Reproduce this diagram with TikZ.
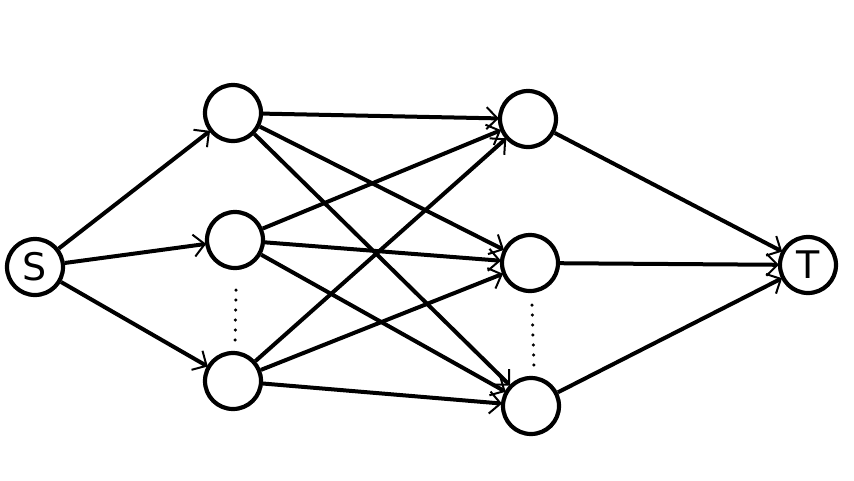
\documentclass[tikz,border=0pt]{standalone}
\usepackage{fontspec}
\setmainfont{DejaVu Sans}
\usetikzlibrary{arrows.meta}
\begin{document}
\begin{tikzpicture}[x=1pt,y=-1pt,
  vert/.style={circle,draw=black,line width=4.2pt,minimum size=56pt,inner sep=0pt,font=\fontsize{38}{38}\selectfont},
  edge/.style={line width=4pt,-{Straight Barb[length=11pt,width=22pt,line width=2pt]},shorten >=-1pt},
  dots/.style={line width=3.5pt,dash pattern=on 0pt off 10pt,line cap=round}]
\useasboundingbox (0,0) rectangle (854,480);
\node[vert] (s) at (35,267) {S};
\node[vert] (a1) at (233,113) {};
\node[vert] (a2) at (235,240) {};
\node[vert] (a3) at (233,381) {};
\node[vert] (b1) at (528,119) {};
\node[vert] (b2) at (530,263) {};
\node[vert] (b3) at (531,406) {};
\node[vert] (t) at (808,265) {T};
\foreach \u/\v in {s/a1,s/a2,s/a3,a1/b1,a1/b2,a1/b3,a2/b1,a2/b2,a2/b3,a3/b1,a3/b2,a3/b3,b1/t,b2/t,b3/t}
  \draw[edge] (\u) -- (\v);
\coordinate (d1) at (236,290); \coordinate (d2) at (235,346);
\coordinate (d3) at (532,305); \coordinate (d4) at (534,367);
\draw[dots] (d1) -- (d2);
\draw[dots] (d3) -- (d4);
\end{tikzpicture}
\end{document}
